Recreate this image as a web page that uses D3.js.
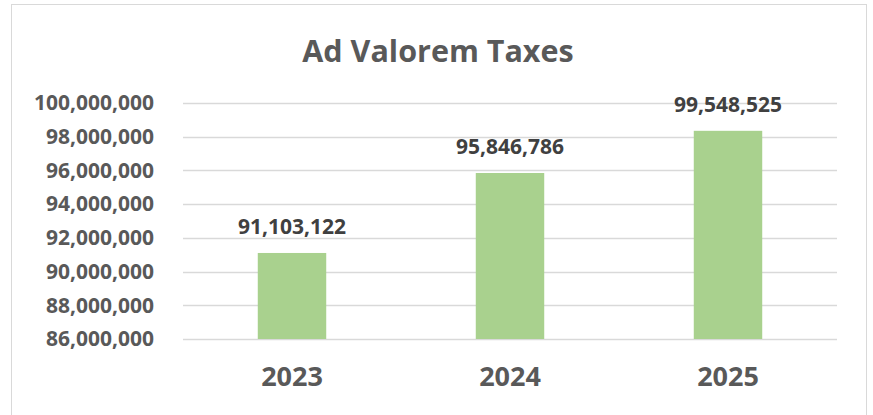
<!DOCTYPE html>
<html>
<head>
<meta charset="utf-8">
<script src="https://cdn.jsdelivr.net/npm/d3@7"></script>
<style>
    body { margin: 0; background: #fff; }
    svg { display: block; font-family: "Open Sans", sans-serif; }
</style>
</head>
<body>
<svg id="chart"></svg>
<script>
// data
const years = ["2023", "2024", "2025"];
const barValues = [91103122, 95846786, 98350000];
const barLabels = ["91,103,122", "95,846,786", "99,548,525"];
const yTicks = [86000000, 88000000, 90000000, 92000000, 94000000, 96000000, 98000000, 100000000];
const chartTitle = "Ad Valorem Taxes";

const config = {
    width: 873,
    height: 415,
    margin: {top: 103, right: 36, bottom: 76, left: 183}
};

const svg = d3.select("#chart")
    .attr("width", config.width)
    .attr("height", config.height);

const innerW = config.width - config.margin.left - config.margin.right;
const innerH = config.height - config.margin.top - config.margin.bottom;

// chart frame
svg.append("rect")
    .attr("x", 11.5)
    .attr("y", 4.5)
    .attr("width", 855)
    .attr("height", 430)
    .attr("fill", "none")
    .attr("stroke", "#d9d9d9");

svg.append("text")
    .attr("x", 438)
    .attr("y", 62)
    .attr("text-anchor", "middle")
    .attr("font-size", 30.5)
    .attr("font-weight", "bold")
    .attr("fill", "#595959")
    .text(chartTitle);

const g = svg.append("g")
    .attr("transform", `translate(${config.margin.left},${config.margin.top})`);

const xScale = d3.scaleBand()
    .domain(years)
    .range([0, innerW])
    .paddingInner(0.686)
    .paddingOuter(0.343);

const yScale = d3.scaleLinear()
    .domain([86000000, 100000000])
    .range([innerH, 0]);

// gridlines
g.append("g")
    .selectAll("line")
    .data(yTicks)
    .join("line")
    .attr("x1", 0)
    .attr("x2", innerW)
    .attr("y1", d => Math.round(yScale(d)) + 0.5)
    .attr("y2", d => Math.round(yScale(d)) + 0.5)
    .attr("stroke", "#d9d9d9")
    .attr("stroke-width", 1.5);

const yAxis = d3.axisLeft(yScale)
    .tickValues(yTicks)
    .tickFormat(d3.format(","))
    .tickSize(0)
    .tickPadding(29);

const yAxisG = g.append("g").call(yAxis);
yAxisG.select(".domain").remove();
yAxisG.selectAll("text")
    .attr("font-family", "Open Sans, sans-serif")
    .attr("font-size", 21)
    .attr("font-weight", "bold")
    .attr("fill", "#595959");

const xAxis = d3.axisBottom(xScale).tickSize(0).tickPadding(28);
const xAxisG = g.append("g")
    .attr("transform", `translate(0,${innerH})`)
    .call(xAxis);
xAxisG.select(".domain").remove();
xAxisG.selectAll("text")
    .attr("font-family", "Open Sans, sans-serif")
    .attr("font-size", 27)
    .attr("font-weight", "bold")
    .attr("fill", "#595959");

const bars = years.map((y, i) => ({year: y, value: barValues[i], label: barLabels[i]}));

g.selectAll(".bar")
    .data(bars)
    .join("rect")
    .attr("class", "bar")
    .attr("x", d => xScale(d.year))
    .attr("y", d => yScale(d.value))
    .attr("width", xScale.bandwidth())
    .attr("height", d => innerH - yScale(d.value))
    .attr("fill", "#a9d18e");

g.selectAll(".bar-label")
    .data(bars)
    .join("text")
    .attr("class", "bar-label")
    .attr("x", d => xScale(d.year) + xScale.bandwidth() / 2)
    .attr("y", d => yScale(d.value) - 19)
    .attr("text-anchor", "middle")
    .attr("font-size", 21)
    .attr("font-weight", "bold")
    .attr("fill", "#404040")
    .text(d => d.label);
</script>
</body>
</html>
